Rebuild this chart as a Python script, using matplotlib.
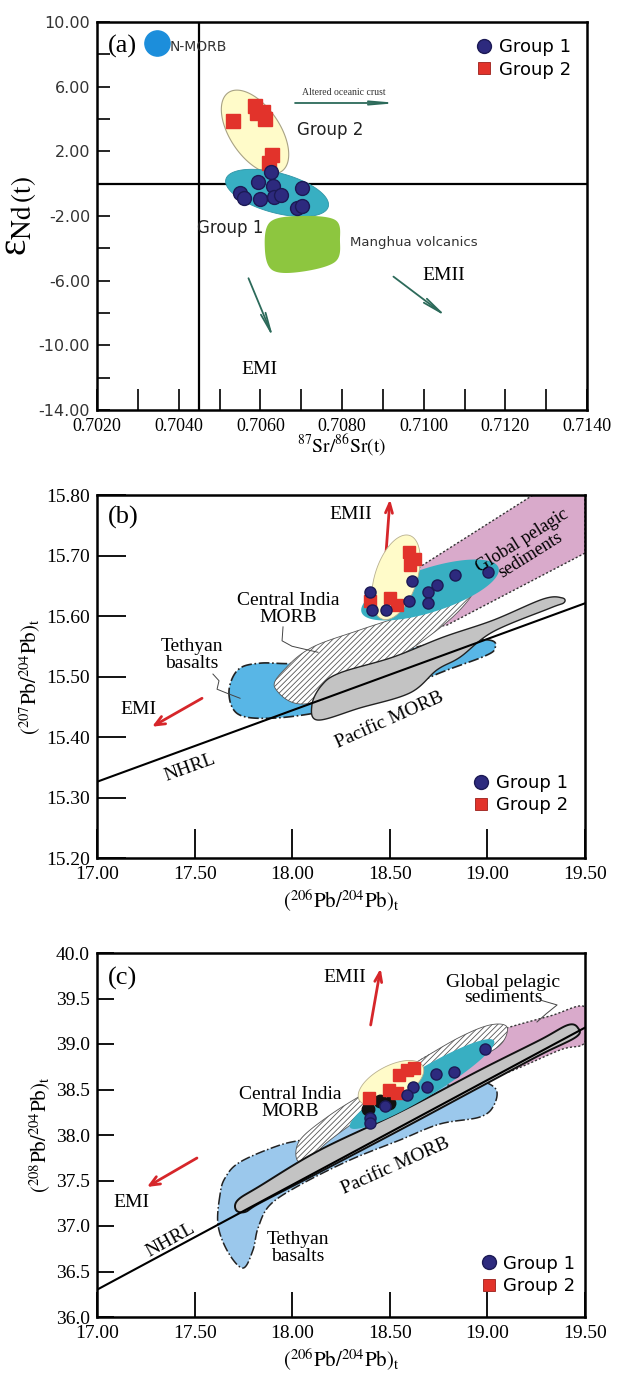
import numpy as np
import matplotlib
matplotlib.use("Agg")
from matplotlib import pyplot as plt

plt.rcParams['mathtext.fontset'] = 'stix'
plt.rcParams['hatch.linewidth'] = 0.6
SERIF = 'Liberation Serif'
SANS = 'DejaVu Sans'

# ---------------- panel (a) data: Sr-Nd ----------------
a_g1_sr = [0.70626, 0.70595, 0.70630, 0.70701, 0.70550, 0.70561, 0.70599, 0.70633, 0.70650, 0.70689, 0.70701]
a_g1_nd = [0.74, 0.12, -0.14, -0.25, -0.59, -0.90, -0.96, -0.84, -0.70, -1.48, -1.38]
a_g2_sr = [0.70532, 0.70587, 0.70591, 0.70607, 0.70611, 0.70628, 0.70620]
a_g2_nd = [3.90, 4.81, 4.35, 4.45, 3.98, 1.77, 1.26]
nmorb = (0.70347, 8.70)
bse_sr, bse_nd = 0.7045, 0.0
# field ellipses: centre, conjugate semi-diameters (data units)
a_yel = [(0.70587, 3.20), (0.000651, -2.437), (0.000507, 0.866)]
a_cyan = [(0.70641, -0.575), (0.001254, -0.847), (0.000127, 1.194)]
manghua_sr = [0.70624, 0.70697, 0.70783, 0.70795, 0.70783, 0.70697, 0.70629, 0.70611]
manghua_nd = [-2.37, -2.00, -2.24, -3.48, -4.84, -5.46, -5.34, -3.98]
a_arrows = {'EMI': [(0.70571, -5.85), (0.70632, -9.56)],
            'EMII': [(0.70926, -5.75), (0.71056, -8.23)],
            'AOC': [(0.70685, 4.99), (0.70937, 4.99)]}

# ---------------- panel (b) data: 207Pb vs 206Pb ----------------
b_g1_x = [18.399, 18.407, 18.481, 18.612, 18.598, 18.697, 18.740, 18.697, 18.834, 19.002]
b_g1_y = [15.640, 15.610, 15.610, 15.658, 15.624, 15.640, 15.651, 15.621, 15.668, 15.673]
b_g2_x = [18.600, 18.629, 18.603, 18.399, 18.501, 18.535]
b_g2_y = [15.705, 15.695, 15.684, 15.625, 15.629, 15.618]
b_yel = [(18.532, 15.664), (0.0697, 0.0691), (0.1025, -0.0107)]
b_cyan = [(18.706, 15.643), (0.3509, 0.0367), (0.0348, -0.0345)]
b_cim_x = [17.912, 18.091, 18.516, 18.793, 18.926, 18.860, 18.604, 18.347, 18.107, 17.973]
b_cim_y = [15.481, 15.456, 15.527, 15.590, 15.638, 15.640, 15.605, 15.577, 15.549, 15.516]
b_teth_x = [17.676, 17.722, 17.886, 18.142, 18.450, 18.757, 18.988, 19.039, 19.013, 18.808, 18.450, 18.040, 17.835, 17.722]
b_teth_y = [15.474, 15.438, 15.431, 15.441, 15.464, 15.506, 15.534, 15.547, 15.560, 15.560, 15.536, 15.522, 15.522, 15.511]
b_pac_x = [18.101, 18.150, 18.245, 18.516, 18.773, 19.029, 19.285, 19.382, 19.392, 19.321, 19.029, 18.860, 18.742,
           18.604, 18.347, 18.132]
b_pac_y = [15.453, 15.485, 15.506, 15.532, 15.565, 15.593, 15.628, 15.630, 15.622, 15.613, 15.574, 15.532, 15.511,
           15.473, 15.448, 15.428]
b_gps_x = [18.629, 19.234, 19.50, 19.50, 18.793, 18.655]
b_gps_y = [15.676, 15.80, 15.80, 15.704, 15.585, 15.577]
b_nhrl_x = [17.0, 19.5]
b_nhrl_y = [15.326, 15.621]
b_cim_lead = [[17.953, 17.948, 17.999, 18.132], [15.582, 15.559, 15.550, 15.540]]
b_teth_lead = [[17.594, 17.625, 17.615, 17.661, 17.733], [15.504, 15.493, 15.479, 15.473, 15.464]]
b_arrows = {'EMII': [(18.481, 15.706), (18.501, 15.793)],
            'EMI': [(17.538, 15.464), (17.282, 15.417)]}

# ---------------- panel (c) data: 208Pb vs 206Pb ----------------
c_g1_x = [18.988, 18.735, 18.829, 18.689, 18.620, 18.587, 18.475, 18.399, 18.399]
c_g1_y = [38.942, 38.670, 38.689, 38.531, 38.524, 38.440, 38.319, 38.184, 38.129]
c_blk_x = [18.390, 18.450, 18.497]
c_blk_y = [38.286, 38.374, 38.355]
c_g2_x = [18.395, 18.497, 18.538, 18.549, 18.587, 18.624]
c_g2_y = [38.410, 38.495, 38.458, 38.659, 38.714, 38.733]
c_yel = [(18.506, 38.571), (0.1629, 0.1857), (0.0410, -0.1648)]
c_cyan = [(18.665, 38.560), (0.3689, 0.4758), (0.0369, -0.1319)]
c_cim_x = [18.025, 18.040, 18.194, 18.399, 18.655, 18.860, 19.013, 19.100, 19.065, 18.911, 18.655, 18.399, 18.194, 18.091]
c_cim_y = [37.725, 37.945, 38.220, 38.495, 38.824, 39.077, 39.209, 39.187, 38.989, 38.802, 38.549, 38.253, 37.945, 37.747]
c_teth_x = [17.630, 17.620, 17.671, 17.748, 17.799, 17.825, 17.886, 18.040, 18.296, 18.552, 18.757, 18.962, 19.034,
            19.039, 18.911, 18.655, 18.399, 18.142, 17.938, 17.733, 17.656]
c_teth_y = [37.341, 37.011, 36.714, 36.538, 36.736, 36.978, 37.231, 37.451, 37.725, 37.945, 38.121, 38.198, 38.330,
            38.516, 38.604, 38.495, 38.275, 38.000, 37.890, 37.703, 37.527]
c_pac_x = [17.712, 17.722, 17.835, 18.142, 18.552, 18.962, 19.269, 19.413, 19.464, 19.454, 19.269, 18.962, 18.552, 18.142, 17.835, 17.758]
c_pac_y = [37.176, 37.286, 37.440, 37.835, 38.253, 38.714, 39.044, 39.209, 39.176, 39.077, 38.879, 38.527, 38.055, 37.593, 37.253, 37.154]
c_gps_x = [18.629, 18.757, 19.065, 19.321, 19.50, 19.50, 19.372, 19.065, 18.808, 18.680]
c_gps_y = [38.758, 38.934, 39.154, 39.308, 39.407, 39.022, 38.934, 38.659, 38.549, 38.626]
c_nhrl_x = [17.0, 19.5]
c_nhrl_y = [36.30, 39.18]
c_gps_lead = [[19.269, 19.357, 19.300, 19.254], [39.484, 39.429, 39.330, 39.242]]
c_arrows = {'EMII': [(18.402, 39.209), (18.453, 39.832)],
            'EMI': [(17.512, 37.747), (17.256, 37.429)]}

NAVY = '#2D2A7E'
NAVY_E = '#1C1A55'
RED = '#E2332B'
YEL = '#FFFBC9'
CYAN = '#38AFC2'
PINK = '#D9AACB'
GREY = '#C3C3C3'
ARROW_G = '#2C6A5A'
ARROW_R = '#D6262A'


def smooth(xs, ys, n=24):
    p = np.column_stack([xs, ys])
    m = len(p)
    t = np.linspace(0, 1, n, endpoint=False)[:, None]
    segs = []
    for i in range(m):
        p0, p1, p2, p3 = p[i - 1], p[i], p[(i + 1) % m], p[(i + 2) % m]
        segs.append(0.5 * (2 * p1 + (-p0 + p2) * t + (2 * p0 - 5 * p1 + 4 * p2 - p3) * t ** 2
                           + (-p0 + 3 * p1 - 3 * p2 + p3) * t ** 3))
    return np.vstack(segs)


def ellipse(e):
    (cx, cy), (ux, uy), (vx, vy) = e
    t = np.linspace(0, 2 * np.pi, 200)
    return np.column_stack([cx + ux * np.cos(t) + vx * np.sin(t), cy + uy * np.cos(t) + vy * np.sin(t)])


def arrow(ax, seg, color, style, lw):
    ax.annotate('', xy=seg[1], xytext=seg[0],
                arrowprops=dict(arrowstyle=style, color=color, lw=lw, shrinkA=0, shrinkB=0))


def legend(ax, ms, **kw):
    h1 = ax.plot([], [], 'o', ms=ms, color=NAVY, mec=NAVY_E, label='Group 1')[0]
    h2 = ax.plot([], [], 's', ms=ms - 1, color=RED, mec='#9A1F1A', mew=0.6, label='Group 2')[0]
    ax.legend(handles=[h1, h2], frameon=False, handlelength=0.9, handletextpad=0.35,
              labelspacing=0.25, prop={'family': SANS, 'size': 13}, **kw)


def frame(ax, lw):
    for s in ax.spines.values():
        s.set_linewidth(lw)


fig = plt.figure(figsize=(6.19, 13.8), dpi=100)

# ======================= (a) =======================
ax = fig.add_axes([97 / 619, 1 - 410 / 1380, 490 / 619, 388 / 1380])
ax.set_xlim(0.7020, 0.7140)
ax.set_ylim(-14, 10)
ax.axvline(bse_sr, color='black', lw=1.6, zorder=2)
ax.axhline(bse_nd, color='black', lw=1.6, zorder=2)
p = ellipse(a_yel)
ax.fill(p[:, 0], p[:, 1], facecolor=YEL, edgecolor='#A8A284', lw=0.8, zorder=3)
p = ellipse(a_cyan)
ax.fill(p[:, 0], p[:, 1], facecolor=CYAN, edgecolor='#2F95A6', lw=0.6, zorder=3)
p = smooth(manghua_sr, manghua_nd)
ax.fill(p[:, 0], p[:, 1], facecolor='#8DC63F', edgecolor='none', zorder=3)
ax.scatter([nmorb[0]], [nmorb[1]], s=330, color='#1C8EDB', zorder=4, clip_on=False)
ax.plot(a_g2_sr, a_g2_nd, 's', ms=10, color=RED, mec=RED, zorder=5)
ax.plot(a_g1_sr, a_g1_nd, 'o', ms=10, color=NAVY, mec=NAVY_E, mew=1, zorder=6)
arrow(ax, a_arrows['EMI'], ARROW_G, '->,head_length=1.4,head_width=0.18', 1.3)
arrow(ax, a_arrows['EMII'], ARROW_G, '->,head_length=1.4,head_width=0.18', 1.3)
arrow(ax, a_arrows['AOC'], ARROW_G, '->,head_length=1.4,head_width=0.12', 1.3)
ax.text(0.70805, 5.61, 'Altered oceanic crust', family=SERIF, fontsize=7, ha='center', va='center', color='#333333')
ax.text(0.70690, 3.32, 'Group 2', family=SANS, fontsize=12, ha='left', va='center', color='#222222')
ax.text(0.70526, -2.74, 'Group 1', family=SANS, fontsize=12, ha='center', va='center', color='#222222')
ax.text(0.70820, -3.61, 'Manghua volcanics', family=SANS, fontsize=9.5, ha='left', va='center', color='#333333')
ax.text(0.70379, 8.45, 'N-MORB', family=SANS, fontsize=10, ha='left', va='center', color='#333333')
ax.text(0.71050, -5.65, 'EMII', family=SERIF, fontsize=14, ha='center', va='center')
ax.text(0.70599, -11.52, 'EMI', family=SERIF, fontsize=14, ha='center', va='center')
ax.text(0.022, 0.937, '(a)', transform=ax.transAxes, family=SERIF, fontsize=19, ha='left', va='center')
legend(ax, 10, loc='upper right', borderaxespad=0.5)
ax.set_xticks(np.arange(0.7020, 0.71401, 0.002))
ax.set_xticklabels(['%.4f' % v for v in np.arange(0.7020, 0.71401, 0.002)], family=SERIF, fontsize=13)
ax.set_xticks(np.arange(0.7020, 0.71401, 0.001), minor=True)
ax.set_yticks(np.arange(-14, 10.1, 4))
ax.set_yticklabels(['%.2f' % v for v in np.arange(-14, 10.1, 4)], family=SANS, fontsize=11.5, color='#333333')
ax.set_yticks(np.arange(-14, 10.1, 2), minor=True)
ax.tick_params(axis='x', which='both', direction='in', length=15, width=1.2, pad=6)
ax.tick_params(axis='y', which='both', direction='in', length=9, width=1.2, pad=5)
ax.set_xlabel(r'$^{87}\mathrm{Sr}/^{86}\mathrm{Sr(t)}$', fontsize=14, labelpad=-2)
ax.set_ylabel('\u03b5' + r'$_{\mathrm{Nd}\,\mathrm{(t)}}$', family=SERIF, fontsize=28, labelpad=0)
frame(ax, 1.8)

# ======================= (b) =======================
ax = fig.add_axes([97 / 619, 1 - 858 / 1380, 488 / 619, 363 / 1380])
ax.set_xlim(17.0, 19.5)
ax.set_ylim(15.2, 15.8)
ax.fill(b_gps_x, b_gps_y, facecolor=PINK, edgecolor='#333333', lw=1, ls=(0, (1.5, 1.5)), zorder=2)
p = smooth(b_teth_x, b_teth_y)
ax.fill(p[:, 0], p[:, 1], facecolor='#58B6E6', edgecolor='#222222', lw=1.2, ls='-.', zorder=2)
p = smooth(b_cim_x, b_cim_y)
ax.fill(p[:, 0], p[:, 1], facecolor='white', edgecolor='#555555', hatch='//////', lw=0.6, zorder=3)
p = smooth(b_pac_x, b_pac_y)
ax.fill(p[:, 0], p[:, 1], facecolor=GREY, edgecolor='#222222', lw=1.0, zorder=4)
ax.plot(b_nhrl_x, b_nhrl_y, color='black', lw=1.5, zorder=5)
p = ellipse(b_cyan)
ax.fill(p[:, 0], p[:, 1], facecolor=CYAN, edgecolor='none', zorder=6)
p = ellipse(b_yel)
ax.fill(p[:, 0], p[:, 1], facecolor=YEL, edgecolor='#B8B090', lw=0.6, zorder=6)
ax.plot(b_g2_x, b_g2_y, 's', ms=9, color=RED, mec=RED, zorder=7)
ax.plot(b_g1_x, b_g1_y, 'o', ms=8, color=NAVY, mec=NAVY_E, zorder=8)
ax.plot(b_cim_lead[0], b_cim_lead[1], color='#444444', lw=0.7, zorder=5)
ax.plot(b_teth_lead[0], b_teth_lead[1], color='#444444', lw=0.7, zorder=5)
arrow(ax, b_arrows['EMII'], ARROW_R, '->,head_length=0.7,head_width=0.25', 2)
arrow(ax, b_arrows['EMI'], ARROW_R, '->,head_length=0.7,head_width=0.3', 2)
ax.text(18.301, 15.767, 'EMII', family=SERIF, fontsize=14, ha='center', va='center')
ax.text(17.210, 15.445, 'EMI', family=SERIF, fontsize=14, ha='center', va='center')
ax.text(19.200, 15.712, 'Global pelagic\nsediments', family=SERIF, fontsize=13, ha='center', va='center',
        rotation=32, linespacing=0.95, zorder=9)
ax.text(17.978, 15.612, 'Central India\nMORB', family=SERIF, fontsize=14, ha='center', va='center', linespacing=1.0)
ax.text(17.487, 15.536, 'Tethyan\nbasalts', family=SERIF, fontsize=14, ha='center', va='center', linespacing=1.0)
ax.text(17.476, 15.350, 'NHRL', family=SERIF, fontsize=14, ha='center', va='center', rotation=20)
ax.text(18.501, 15.428, 'Pacific MORB', family=SERIF, fontsize=14, ha='center', va='center', rotation=24)
ax.text(0.023, 0.937, '(b)', transform=ax.transAxes, family=SERIF, fontsize=19, ha='left', va='center')
legend(ax, 10, loc='lower right', bbox_to_anchor=(0.965, 0.12), borderaxespad=0, borderpad=0)
ax.set_xticks(np.arange(17.0, 19.51, 0.5))
ax.set_xticklabels(['%.2f' % v for v in np.arange(17.0, 19.51, 0.5)], family=SERIF, fontsize=14)
ax.set_yticks(np.arange(15.2, 15.81, 0.1))
ax.set_yticklabels(['%.2f' % v for v in np.arange(15.2, 15.81, 0.1)], family=SERIF, fontsize=14)
ax.tick_params(axis='both', direction='in', length=21, width=1.3, pad=6)
ax.tick_params(axis='y', pad=5)
ax.set_xlabel(r'$(^{206}\mathrm{Pb}/^{204}\mathrm{Pb})_{\mathrm{t}}$', fontsize=15, labelpad=3)
ax.set_ylabel(r'$(^{207}\mathrm{Pb}/^{204}\mathrm{Pb})_{\mathrm{t}}$', fontsize=15, labelpad=2)
frame(ax, 1.8)

# ======================= (c) =======================
ax = fig.add_axes([97 / 619, 1 - 1317 / 1380, 488 / 619, 364 / 1380])
ax.set_xlim(17.0, 19.5)
ax.set_ylim(36.0, 40.0)
p = smooth(c_teth_x, c_teth_y)
ax.fill(p[:, 0], p[:, 1], facecolor='#9BC8EC', edgecolor='#222222', lw=1.1, ls='-.', zorder=2)
p = smooth(c_gps_x, c_gps_y)
ax.fill(p[:, 0], p[:, 1], facecolor=PINK, edgecolor='#333333', lw=1, ls=(0, (1.5, 1.5)), zorder=2)
p = smooth(c_cim_x, c_cim_y)
ax.fill(p[:, 0], p[:, 1], facecolor='white', edgecolor='#555555', hatch='//////', lw=0.6, zorder=3)
p = smooth(c_pac_x, c_pac_y)
ax.fill(p[:, 0], p[:, 1], facecolor=GREY, edgecolor='#111111', lw=1.4, zorder=4)
ax.plot(c_nhrl_x, c_nhrl_y, color='black', lw=1.5, zorder=5)
p = ellipse(c_cyan)
ax.fill(p[:, 0], p[:, 1], facecolor=CYAN, edgecolor='none', zorder=6)
p = ellipse(c_yel)
ax.fill(p[:, 0], p[:, 1], facecolor=YEL, edgecolor='#B8B090', lw=0.6, zorder=6)
ax.plot(c_blk_x, c_blk_y, 'o', ms=9, color='#111111', zorder=7)
ax.plot(c_g2_x, c_g2_y, 's', ms=9, color=RED, mec=RED, zorder=7)
ax.plot(c_g1_x, c_g1_y, 'o', ms=8, color=NAVY, mec=NAVY_E, zorder=8)
ax.plot(c_gps_lead[0], c_gps_lead[1], color='#444444', lw=0.7, zorder=5)
arrow(ax, c_arrows['EMII'], ARROW_R, '->,head_length=0.7,head_width=0.25', 2)
arrow(ax, c_arrows['EMI'], ARROW_R, '->,head_length=0.7,head_width=0.3', 2)
ax.text(18.270, 39.736, 'EMII', family=SERIF, fontsize=14, ha='center', va='center')
ax.text(17.174, 37.253, 'EMI', family=SERIF, fontsize=14, ha='center', va='center')
ax.text(19.080, 39.593, 'Global pelagic\nsediments', family=SERIF, fontsize=14, ha='center', va='center',
        linespacing=0.9)
ax.text(17.989, 38.352, 'Central India\nMORB', family=SERIF, fontsize=14, ha='center', va='center', linespacing=1.0)
ax.text(18.030, 36.758, 'Tethyan\nbasalts', family=SERIF, fontsize=14, ha='center', va='center', linespacing=1.0)
ax.text(17.379, 36.846, 'NHRL', family=SERIF, fontsize=14, ha='center', va='center', rotation=29)
ax.text(18.527, 37.659, 'Pacific MORB', family=SERIF, fontsize=14, ha='center', va='center', rotation=24)
ax.text(0.022, 0.931, '(c)', transform=ax.transAxes, family=SERIF, fontsize=19, ha='left', va='center')
legend(ax, 10, loc='lower right', bbox_to_anchor=(0.98, 0.06), borderaxespad=0, borderpad=0)
ax.set_xticks(np.arange(17.0, 19.51, 0.5))
ax.set_xticklabels(['%.2f' % v for v in np.arange(17.0, 19.51, 0.5)], family=SERIF, fontsize=14)
ax.set_yticks(np.arange(36.0, 40.01, 0.5))
ax.set_yticklabels(['%.1f' % v for v in np.arange(36.0, 40.01, 0.5)], family=SERIF, fontsize=14)
ax.tick_params(axis='x', direction='in', length=18, width=1.3, pad=6)
ax.tick_params(axis='y', direction='in', length=12, width=1.3, pad=5)
ax.set_xlabel(r'$(^{206}\mathrm{Pb}/^{204}\mathrm{Pb})_{\mathrm{t}}$', fontsize=15, labelpad=3)
ax.set_ylabel(r'$(^{208}\mathrm{Pb}/^{204}\mathrm{Pb})_{\mathrm{t}}$', fontsize=15, labelpad=2)
frame(ax, 1.8)

fig.savefig('out.png', dpi=100)
